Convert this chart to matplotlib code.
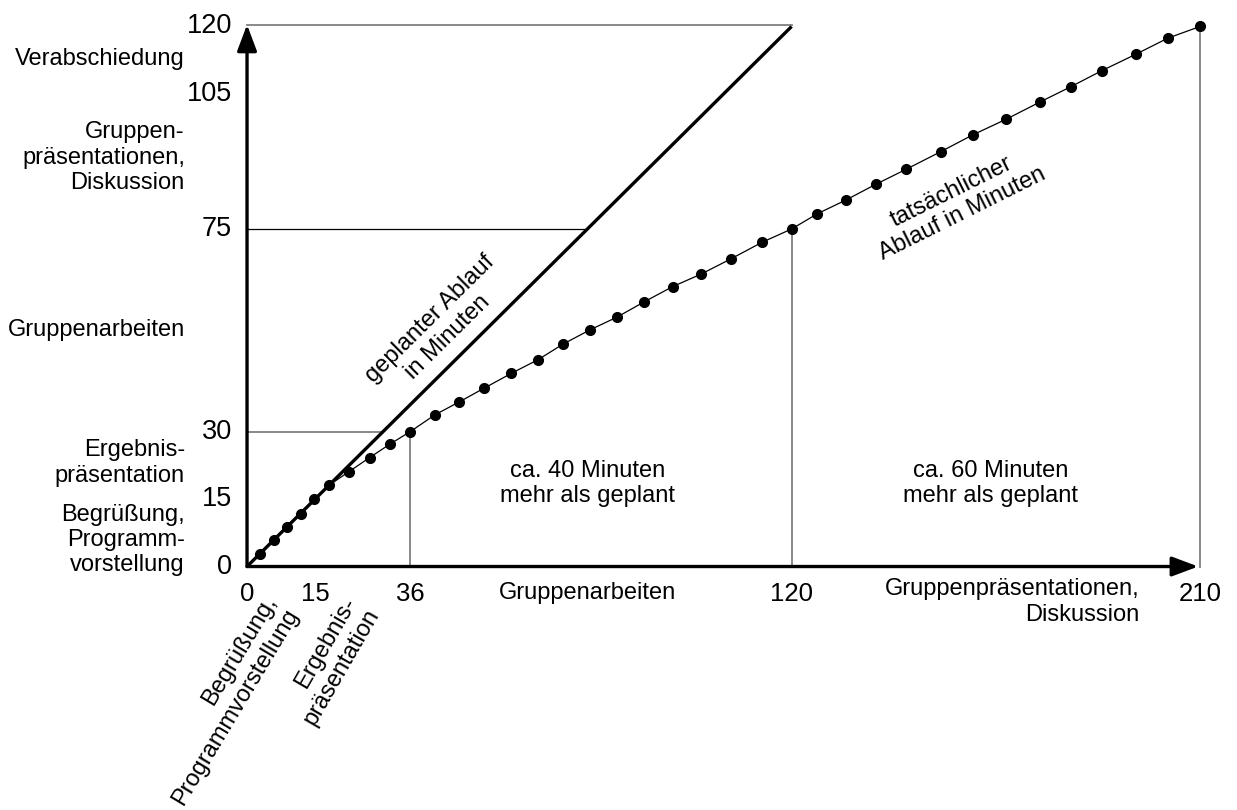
import matplotlib
matplotlib.use("Agg")
import matplotlib.pyplot as plt

plt.rcParams['font.family'] = ['Liberation Sans', 'DejaVu Sans']

# geplanter Ablauf (planned): x = tatsaechliche Minuten, y = geplante Minuten
planned_x = [0, 120]
planned_y = [0, 120]

actual_x = [0, 2.9, 5.9, 8.9, 11.8, 14.8, 18.1, 22.5, 27.0, 31.5, 36.0,
            41.4, 46.8, 52.2, 58.2, 64.2, 69.6, 75.6, 81.5, 87.5, 93.8,
            100.1, 106.7, 113.4, 120.0, 125.7, 131.9, 138.5, 145.3, 152.9,
            159.9, 167.3, 174.7, 181.5, 188.4, 195.8, 202.9, 210.0]
actual_y = [0, 2.7, 5.8, 8.8, 11.7, 14.9, 18.1, 21.1, 24.2, 27.2, 30.0,
            33.7, 36.6, 39.6, 42.9, 46.0, 49.4, 52.6, 55.4, 58.8, 62.2,
            65.0, 68.4, 72.0, 75.0, 78.4, 81.4, 84.9, 88.3, 92.2,
            95.9, 99.4, 103.2, 106.6, 110.2, 113.8, 117.4, 120.0]

yticks = [0, 15, 30, 75, 105, 120]
xticks = [0, 15, 36, 120, 210]

y_phases = ["Begrüßung,\nProgramm-\nvorstellung", "Ergebnis-\npräsentation",
            "Gruppenarbeiten", "Gruppen-\npräsentationen,\nDiskussion",
            "Verabschiedung"]
y_phase_pos = [5.9, 23, 52.5, 90.8, 112.8]

# where the guide lines meet: planned minute -> actual minute
break_planned = [30, 75, 120]
break_actual = [36, 120, 210]

fig = plt.figure(figsize=(12.37, 8.10), dpi=100)
ax = fig.add_axes([0.1997, 0.3006, 0.7704, 0.6667])
ax.set_xlim(0, 210)
ax.set_ylim(0, 120)
ax.axis('off')

grey = '#808080'
# horizontal guides up to the planned line
ax.plot([0, 30], [30, 30], color=grey, lw=1.3, clip_on=False)
ax.plot([0, 75], [75, 75], color='k', lw=0.9, clip_on=False)
ax.plot([0, 120], [120.4, 120.4], color=grey, lw=1.3, clip_on=False)
# vertical guides down from the actual line
for bx, by in zip(break_actual, break_planned):
    ax.plot([bx, bx], [0, by], color=grey, lw=1.3, clip_on=False)

ax.plot(planned_x, planned_y, color='k', lw=2.4, solid_capstyle='butt', clip_on=False)
ax.plot(actual_x, actual_y, color='k', lw=0.9, marker='o', ms=7,
        markevery=slice(1, None), clip_on=False)

# axes with arrows
arrow = dict(arrowstyle='-|>,head_length=0.8,head_width=0.3', lw=2.4, color='k',
             shrinkA=0, shrinkB=0, mutation_scale=20)
ax.annotate('', xy=(0, 120.4), xytext=(0, 0), arrowprops=arrow, annotation_clip=False)
ax.annotate('', xy=(209.6, 0), xytext=(0, 0), arrowprops=arrow, annotation_clip=False)

lab_fs = 17
for v in yticks:
    ax.text(-3.3, v, str(v), ha='right', va='center', fontsize=19.5)
for v in xticks:
    ax.text(v, -6.0, str(v), ha='center', va='center', fontsize=18.5)

for s, v in zip(y_phases, y_phase_pos):
    ax.text(-13.7, v, s, ha='right', va='center', multialignment='right', fontsize=lab_fs)

ax.text(75.1, -5.9, "Gruppenarbeiten", ha='center', va='center', fontsize=lab_fs)
ax.text(196.7, -7.9, "Gruppenpräsentationen,\nDiskussion", ha='right', va='center',
        multialignment='right', fontsize=lab_fs)

ax.text(12.3, -5.7, "Begrüßung,\nProgrammvorstellung", ha='right', va='top',
        multialignment='right', rotation=59, fontsize=lab_fs)
ax.text(30.0, -5.9, "Ergebnis-\npräsentation", ha='right', va='top',
        multialignment='right', rotation=60, fontsize=lab_fs)

ax.text(42.3, 53.0, "geplanter Ablauf\nin Minuten", ha='center', va='center',
        multialignment='center', rotation=44.7, fontsize=lab_fs)
ax.text(156.4, 80.8, "tatsächlicher\nAblauf in Minuten", ha='center', va='center',
        multialignment='center', rotation=26.5, fontsize=lab_fs)

ax.text(75.0, 18.5, "ca. 40 Minuten\nmehr als geplant", ha='center', va='center',
        multialignment='center', fontsize=lab_fs)
ax.text(163.8, 18.5, "ca. 60 Minuten\nmehr als geplant", ha='center', va='center',
        multialignment='center', fontsize=lab_fs)

fig.savefig('out.png', dpi=100)
